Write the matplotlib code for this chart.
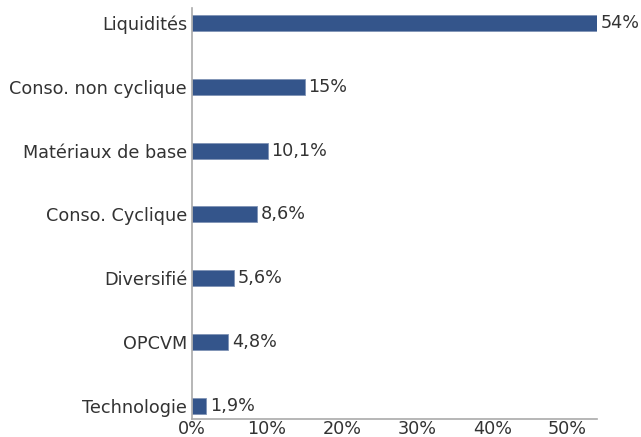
import matplotlib
matplotlib.use("Agg")
import matplotlib.pyplot as plt

plt.rcParams["font.family"] = ["DejaVu Sans"]

categories = ["Liquidités", "Conso. non cyclique", "Matériaux de base",
              "Conso. Cyclique", "Diversifié", "OPCVM", "Technologie"]
values = [54, 15, 10.1, 8.6, 5.6, 4.8, 1.9]
labels = ["54%", "15%", "10,1%", "8,6%", "5,6%", "4,8%", "1,9%"]
xticks = [0, 10, 20, 30, 40, 50]

text_color = "#333333"
bar_color = "#34558b"
fs = 12.7

fig = plt.figure(figsize=(6.41, 4.37), dpi=100)
ax = fig.add_axes([0.2995, 0.0412, 0.6323, 0.9405])

ypos = list(range(len(categories)))[::-1]
ax.barh(ypos, values, height=0.25, color=bar_color, edgecolor="#7f93b5", linewidth=0.6)

for y, v, lab in zip(ypos, values, labels):
    ax.text(v + 0.5, y, lab, va="center", ha="left", fontsize=fs, color=text_color)

ax.set_xlim(0, 54)
ax.set_ylim(-0.2, 6.23)
ax.set_yticks(ypos)
ax.set_yticklabels(categories)
ax.set_xticks(xticks)
ax.set_xticklabels([f"{t}%" for t in xticks])
ax.tick_params(axis="y", length=0, labelsize=fs, colors=text_color, pad=3.5)
ax.tick_params(axis="x", length=0, labelsize=fs, colors=text_color, pad=1)

for side in ["top", "right"]:
    ax.spines[side].set_visible(False)
for side in ["left", "bottom"]:
    ax.spines[side].set_color("#aaaaaa")
    ax.spines[side].set_linewidth(1.2)

fig.savefig("out.png", dpi=100)
